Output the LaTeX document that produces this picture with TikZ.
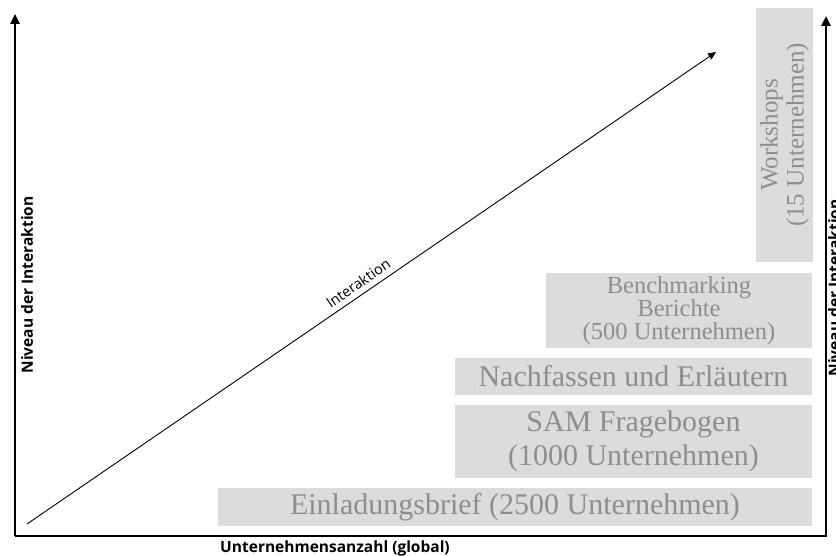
\documentclass[tikz,border=0pt]{standalone}
\usepackage{fontspec}
\newfontfamily\osans{Open Sans}
\newfontfamily\serifb{Liberation Serif}
\usetikzlibrary{arrows.meta}
\definecolor{boxgray}{HTML}{DCDCDC}
\definecolor{txtgray}{HTML}{8E8E8E}
\begin{document}
\begin{tikzpicture}[x=1pt,y=-1pt,
  box/.style={rectangle, fill=boxgray, draw=none, inner sep=0pt, text=txtgray, align=center},
  bigtxt/.style={font=\serifb\fontsize{30}{34}\selectfont},
  smalltxt/.style={font=\serifb\fontsize{24.5}{23}\selectfont},
  worktxt/.style={font=\serifb\fontsize{25}{26}\selectfont},
  axis/.style={line width=2.4pt, -{Triangle[width=9pt,length=10pt]}},
  axlabel/.style={font=\osans\bfseries\fontsize{15.5}{17}\selectfont, inner sep=0pt},
  diag/.style={line width=0.9pt, -{Triangle[width=7pt,length=8pt]}}]
\useasboundingbox (0,0) rectangle (836,556);

% boxes
\node[box, bigtxt, minimum width=594pt, minimum height=38pt] (brief) at (515,507) {Einladungsbrief (2500 Unternehmen)};
\node[box, bigtxt, minimum width=357pt, minimum height=73pt] (sam) at (633.5,441) {SAM Fragebogen\\(1000 Unternehmen)};
\node[box, bigtxt, minimum width=357pt, minimum height=37pt] (nach) at (633.5,376.5) {Nachfassen und Erläutern};
\node[box, smalltxt, minimum width=266pt, minimum height=75pt] (bench) at (679,310.5) {Benchmarking\\Berichte\\(500 Unternehmen)};
\node[box, worktxt, rotate=90, minimum width=254pt, minimum height=57pt] (work) at (784.5,135) {Workshops\\(15 Unternehmen)};

% axes
\coordinate (O) at (15,536);
\coordinate (Ytop) at (15,14);
\coordinate (Xend) at (826,536);
\coordinate (Rtop) at (826,16);
\draw[axis] (O) -- (Ytop);
\draw[axis, line join=miter] (O) -- (Xend) -- (Rtop);

\node[axlabel, rotate=90, anchor=north] (ylab) at (21,285) {Niveau der Interaktion};
\node[axlabel, rotate=90, anchor=north] (rlab) at (828,288) {Niveau der Interaktion};
\node[axlabel, anchor=north] (xlab) at (335,541) {Unternehmensanzahl (global)};

% interaction arrow
\coordinate (s) at (27,524);
\coordinate (e) at (716,52);
\draw[diag] (s) -- (e) node[pos=0.49, sloped, above=2pt, font=\osans\fontsize{14.5}{16}\selectfont] (ilab) {Interaktion};
\end{tikzpicture}
\end{document}
